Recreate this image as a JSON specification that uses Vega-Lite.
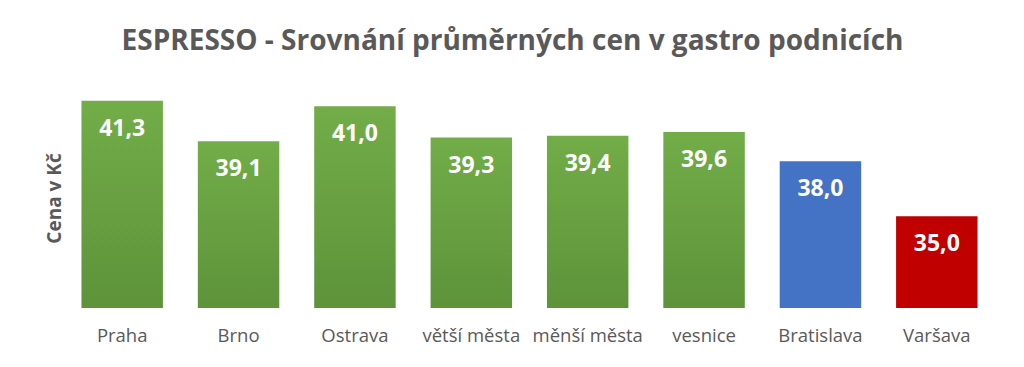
{
  "$schema": "https://vega.github.io/schema/vega-lite/v6.json",
  "autosize": "none",
  "width": 931,
  "height": 220,
  "padding": {"left": 64, "top": 88, "right": 29, "bottom": 59},
  "background": "#ffffff",
  "config": {
    "view": {"stroke": null},
    "font": "Open Sans",
    "locale": {"number": {"decimal": ",", "thousands": " ", "grouping": [3], "currency": ["", " Kč"]}}
  },
  "title": {
    "text": "ESPRESSO - Srovnání průměrných cen v gastro podnicích",
    "fontSize": 28,
    "fontWeight": "bold",
    "color": "#595959",
    "font": "Open Sans",
    "anchor": "middle",
    "dx": -17,
    "baseline": "alphabetic",
    "offset": 10
  },
  "data": {
    "values": [
      {"misto": "Praha", "cena": 41.3, "skupina": "ČR"},
      {"misto": "Brno", "cena": 39.1, "skupina": "ČR"},
      {"misto": "Ostrava", "cena": 41.0, "skupina": "ČR"},
      {"misto": "větší města", "cena": 39.3, "skupina": "ČR"},
      {"misto": "měnší města", "cena": 39.4, "skupina": "ČR"},
      {"misto": "vesnice", "cena": 39.6, "skupina": "ČR"},
      {"misto": "Bratislava", "cena": 38.0, "skupina": "Bratislava"},
      {"misto": "Varšava", "cena": 35.0, "skupina": "Varšava"}
    ]
  },
  "encoding": {
    "x": {
      "field": "misto",
      "type": "nominal",
      "sort": null,
      "scale": {"paddingInner": 0.3, "paddingOuter": 0.15},
      "axis": {
        "title": null,
        "labelAngle": 0,
        "ticks": false,
        "domain": false,
        "labelFontSize": 18.5,
        "labelColor": "#595959",
        "labelPadding": 18,
        "labelLimit": 300,
        "labelOverlap": false
      }
    },
    "y": {
      "field": "cena",
      "type": "quantitative",
      "scale": {"domain": [30, 42], "nice": false, "zero": false},
      "axis": {
        "title": "Cena v Kč",
        "labels": false,
        "ticks": false,
        "domain": false,
        "grid": false,
        "titleFontSize": 19,
        "titleFontWeight": "bold",
        "titleColor": "#595959",
        "titlePadding": 0
      }
    }
  },
  "layer": [
    {
      "transform": [{"filter": "datum.skupina == 'ČR'"}],
      "mark": {
        "type": "bar",
        "color": {
          "gradient": "linear",
          "x1": 0, "y1": 0, "x2": 0, "y2": 1,
          "stops": [
            {"offset": 0, "color": "#72ad48"},
            {"offset": 1, "color": "#5e933a"}
          ]
        }
      },
      "encoding": {"y2": {"datum": 30}}
    },
    {
      "transform": [{"filter": "datum.skupina != 'ČR'"}],
      "mark": "bar",
      "encoding": {
        "y2": {"datum": 30},
        "color": {
          "field": "skupina",
          "type": "nominal",
          "scale": {"domain": ["Bratislava", "Varšava"], "range": ["#4472C4", "#C00000"]},
          "legend": null
        }
      }
    },
    {
      "mark": {"type": "text", "baseline": "middle", "dy": 28, "fontSize": 23, "fontWeight": "bold", "color": "#ffffff"},
      "encoding": {"text": {"field": "cena", "type": "quantitative", "format": ".1f"}}
    }
  ]
}
